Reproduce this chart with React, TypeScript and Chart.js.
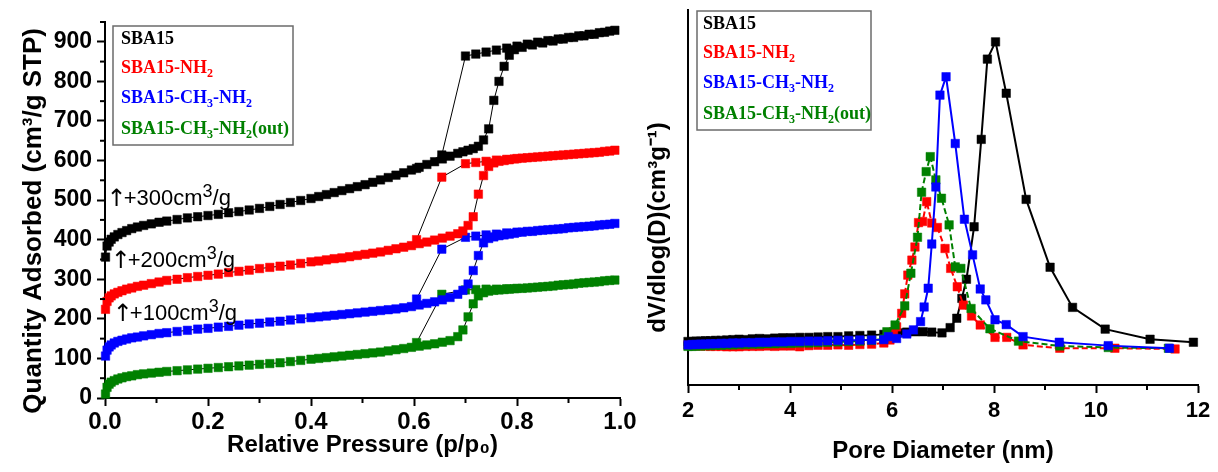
import React, { useEffect, useRef } from 'react';
import { Chart, registerables } from 'chart.js';

Chart.register(...registerables);

const SANS = "'Liberation Sans', Arial, Helvetica, sans-serif";
const SERIF = "'Liberation Serif', 'Times New Roman', serif";

// ---------- Left panel: N2 isotherms (offsets already included, as plotted) ----------
const adsPressure = [
  0.001, 0.004, 0.008, 0.012, 0.018, 0.025, 0.033, 0.042, 0.052, 0.063, 0.075, 0.09, 0.105, 0.12, 0.14, 0.16, 0.18, 0.2,
  0.22, 0.24, 0.26, 0.28, 0.3, 0.32, 0.34, 0.36, 0.38,
  0.4, 0.415, 0.43, 0.445, 0.46, 0.475, 0.49, 0.505, 0.52, 0.535, 0.55, 0.565, 0.58, 0.595, 0.61, 0.625, 0.64, 0.655, 0.67, 0.685,
  0.695, 0.705, 0.715, 0.725, 0.735, 0.745, 0.755, 0.765, 0.775, 0.785, 0.795,
  0.81, 0.83, 0.85, 0.87, 0.89, 0.91, 0.93, 0.95, 0.97, 0.99,
];
const sba15Ads = [
  356, 384, 394, 401, 407, 413, 418, 423, 428, 432, 436, 440, 444, 447, 451, 455, 458, 461,
  464, 468, 471, 475, 479, 484, 489, 494, 499,
  504, 509, 514, 519, 524, 529, 534, 539, 545, 551, 557, 563, 569, 576, 583, 590, 597, 604, 611, 618,
  622, 626, 630, 636, 652, 680, 752, 800, 838, 866, 880,
  886, 892, 897, 902, 907, 911, 915, 919, 924, 929,
];
const nh2Ads = [
  224, 244, 253, 258, 263, 267, 271, 275, 278, 282, 285, 289, 293, 297, 300, 304, 307, 310,
  313, 317, 320, 323, 327, 330, 333, 336, 340,
  344, 346, 349, 352, 354, 357, 360, 363, 366, 369, 373, 377, 381, 385, 390, 394, 399, 404, 409, 415,
  422, 436, 458, 515, 562, 585, 594, 598, 600, 602, 604,
  606, 608, 610, 612, 614, 616, 618, 620, 623, 626,
];
const ch3Ads = [
  106, 121, 129, 134, 139, 143, 146, 149, 152, 154, 157, 160, 163, 165, 168, 171, 174, 176,
  179, 181, 184, 187, 189, 192, 194, 197, 200,
  203, 205, 207, 209, 211, 213, 215, 217, 219, 221, 223, 225, 228, 231, 235, 239, 243, 248, 254, 262,
  272, 288, 322, 360, 392, 403, 407, 410, 412, 414, 416,
  419, 421, 424, 426, 428, 431, 433, 435, 438, 441,
];
const outAds = [
  10, 27, 35, 40, 44, 48, 51, 54, 56, 59, 61, 63, 65, 67, 69, 71, 73, 75,
  77, 79, 81, 83, 85, 87, 89, 92, 95,
  98, 100, 102, 104, 106, 108, 110, 112, 114, 116, 119, 122, 125, 128, 131, 134, 137, 141, 145, 155,
  172, 205, 238, 258, 266, 270, 272, 273, 274, 275, 276,
  277, 279, 281, 283, 286, 288, 291, 293, 296, 298,
];

const desPressure = [0.98, 0.96, 0.94, 0.92, 0.9, 0.88, 0.86, 0.84, 0.82, 0.8, 0.78, 0.76, 0.74, 0.72, 0.7, 0.654, 0.605];
const sba15Des = [927, 923, 919, 915, 911, 907, 903, 899, 894, 889, 884, 879, 874, 869, 864, 614, 580];
const nh2Des = [624, 621, 619, 617, 615, 613, 611, 609, 607, 605, 603, 601, 598, 595, 592, 558, 400];
const ch3Des = [439, 437, 434, 432, 430, 427, 425, 423, 421, 419, 417, 414, 412, 409, 406, 376, 250];
const outDes = [297, 294, 292, 290, 287, 285, 282, 280, 278, 277, 276, 275, 275, 274, 273, 262, 140];

const isoQTicks = [0, 100, 200, 300, 400, 500, 600, 700, 800, 900];

// ---------- Right panel: pore size distribution ----------
const psdBaseD = [
  2.0, 2.08, 2.16, 2.25, 2.34, 2.44, 2.54, 2.65, 2.76, 2.88, 3.0, 3.13, 3.26, 3.4, 3.55, 3.7, 3.86, 4.02, 4.19, 4.37,
  4.55, 4.74, 4.94, 5.15, 5.37, 5.6, 5.84,
];
const sba15PoreD = [...psdBaseD, 6.02, 6.16, 6.29, 6.45, 6.61, 6.78, 6.98, 7.14, 7.27, 7.37, 7.46, 7.61, 7.75, 7.87, 8.03, 8.24, 8.63, 9.1, 9.54, 10.18, 11.06, 11.91];
const sba15PoreV = [
  11.6, 11.6, 11.7, 11.7, 11.8, 11.8, 11.9, 11.9, 12.0, 12.1, 12.2, 12.1, 12.3, 12.4, 12.3, 12.5, 12.6, 12.6, 12.7, 12.7,
  12.8, 12.9, 12.9, 13.1, 13.2, 13.3, 13.5,
  13.7, 13.9, 14.1, 14.2, 14.2, 14.1, 13.9, 15.3, 17.8, 23.1, 28.2, 42.2, 65.5, 86.9, 91.5, 77.8, 49.5, 31.4, 20.7, 14.9, 12.2, 11.4,
];
const nh2PoreD = [...psdBaseD, 5.96, 6.03, 6.09, 6.19, 6.25, 6.31, 6.39, 6.45, 6.52, 6.6, 6.68, 6.78, 6.89, 7.04, 7.15, 7.28, 7.4, 7.56, 7.73, 8.02, 8.25, 8.57, 9.29, 10.37, 11.55];
const nh2PoreV = [
  10.6, 10.5, 10.5, 10.4, 10.4, 10.3, 10.3, 10.3, 10.2, 10.2, 10.2, 10.3, 10.3, 10.3, 10.4, 10.3, 10.4, 10.4, 10.2, 10.5,
  10.6, 10.6, 10.7, 10.6, 10.8, 10.9, 11.2,
  12.0, 14.2, 15.5, 19.1, 24.3, 29.3, 33.3, 36.8, 43.3, 43.6, 48.9, 43.2, 42.0, 36.4, 31.1, 26.2, 21.3, 18.4, 16.0, 12.7, 12.7, 10.7, 9.8, 9.8, 9.6,
];
const ch3PoreD = [...psdBaseD, 5.93, 6.09, 6.29, 6.42, 6.56, 6.63, 6.71, 6.78, 6.86, 6.94, 7.06, 7.24, 7.42, 7.58, 7.73, 7.84, 8.02, 8.24, 8.57, 9.28, 10.24, 11.44];
const ch3PoreV = [
  10.7, 10.8, 10.8, 10.9, 10.9, 11.0, 11.0, 11.1, 11.1, 11.2, 11.2, 11.3, 11.3, 11.4, 11.4, 11.5, 11.5, 11.6, 11.6, 11.7,
  11.7, 11.8, 11.9, 11.9, 12.0, 12.0, 12.1,
  12.9, 12.4, 13.6, 14.7, 16.9, 20.8, 25.8, 37.6, 52.8, 77.3, 82.2, 64.4, 44.2, 34.7, 25.6, 22.7, 17.4, 16.1, 12.9, 11.4, 10.5, 9.8,
];
const outPoreD = [...psdBaseD, 5.9, 6.06, 6.25, 6.37, 6.5, 6.58, 6.67, 6.75, 6.86, 6.97, 7.12, 7.24, 7.35, 7.55, 7.92, 8.48, 9.29, 10.24, 11.42];
const outPoreV = [
  10.3, 10.3, 10.4, 10.4, 10.5, 10.5, 10.6, 10.6, 10.7, 10.7, 10.8, 10.8, 10.9, 10.9, 11.0, 11.0, 11.1, 11.1, 11.2, 11.2,
  11.3, 11.4, 11.5, 11.6, 11.7, 11.9, 12.3,
  14.2, 16.0, 21.1, 29.8, 39.4, 51.4, 56.9, 60.9, 54.7, 49.8, 42.7, 31.5, 31.1, 20.4, 15.0, 11.7, 10.4, 10.0, 9.8,
];

// ---------- Labels ----------
const seriesNames = ['SBA15', 'SBA15-NH_2', 'SBA15-CH_3-NH_2', 'SBA15-CH_3-NH_2(out)'];
const seriesColors = ['#000000', '#ff0000', '#0000ff', '#008000'];
const offsetNotes = ['↑+300cm^3/g', '↑+200cm^3/g', '↑+100cm^3/g'];
const offsetNoteP = [0.003, 0.011, 0.015];
const offsetNoteQ = [488, 332, 197];

const isoAds = [sba15Ads, nh2Ads, ch3Ads, outAds];
const isoDes = [sba15Des, nh2Des, ch3Des, outDes];
const poreD = [sba15PoreD, nh2PoreD, ch3PoreD, outPoreD];
const poreV = [sba15PoreV, nh2PoreV, ch3PoreV, outPoreV];

// ---------- rich text helper (_x subscript, ^x superscript, ↑ enlarged) ----------
function richRuns(text: string) {
  const runs: { t: string; k: number }[] = [];
  let cur = '';
  for (let i = 0; i < text.length; i++) {
    const ch = text[i];
    if ((ch === '_' || ch === '^') && i + 1 < text.length) {
      if (cur) runs.push({ t: cur, k: 0 });
      cur = '';
      runs.push({ t: text[i + 1], k: ch === '_' ? 1 : 2 });
      i++;
    } else if (ch === '↑') {
      if (cur) runs.push({ t: cur, k: 0 });
      cur = '';
      runs.push({ t: ch, k: 3 });
    } else cur += ch;
  }
  if (cur) runs.push({ t: cur, k: 0 });
  return runs;
}

function drawRich(ctx: CanvasRenderingContext2D, text: string, x: number, y: number, o: any) {
  ctx.save();
  ctx.fillStyle = o.color;
  ctx.textBaseline = 'alphabetic';
  ctx.textAlign = 'left';
  let cx = x;
  for (const r of richRuns(text)) {
    let size = o.size;
    let fam = o.family;
    if (r.k === 1 || r.k === 2) size = o.scriptSize;
    if (r.k === 3) { size = o.arrowSize || o.size; fam = "'DejaVu Sans', " + o.family; }
    ctx.font = `${o.weight} ${size}px ${fam}`;
    const dy = r.k === 1 ? o.subDrop : r.k === 2 ? -o.supRaise : r.k === 3 ? (o.arrowDrop || 0) : 0;
    ctx.fillText(r.t, cx, y + dy);
    cx += ctx.measureText(r.t).width * (r.k === 3 ? 0.85 : 1);
  }
  ctx.restore();
  return cx - x;
}

const boxLegendPlugin = {
  id: 'boxLegend',
  afterDraw(chart: any, _a: any, opts: any) {
    if (!opts || !opts.box) return;
    const ctx = chart.ctx as CanvasRenderingContext2D;
    const b = opts.box;
    ctx.save();
    ctx.strokeStyle = '#6b6b6b';
    ctx.lineWidth = 1.5;
    ctx.strokeRect(b.left, b.top, b.width, b.height);
    ctx.restore();
    seriesNames.forEach((name, i) => {
      drawRich(ctx, name, b.left + b.padX, b.top + b.rows[i] + 6, {
        color: seriesColors[i], size: 18, scriptSize: 12, weight: 'bold', family: SERIF, subDrop: 4, supRaise: 7,
      });
    });
  },
};

const notesPlugin = {
  id: 'offsetNotes',
  afterDraw(chart: any, _a: any, opts: any) {
    if (!opts || !opts.show) return;
    const ctx = chart.ctx as CanvasRenderingContext2D;
    const xs = chart.scales.x;
    const ys = chart.scales.y;
    offsetNotes.forEach((t, i) => {
      drawRich(ctx, t, xs.getPixelForValue(offsetNoteP[i]), ys.getPixelForValue(offsetNoteQ[i]), {
        color: '#000', size: 22, scriptSize: 18, arrowSize: 24, arrowDrop: 1, weight: 'normal', family: SANS, subDrop: 4, supRaise: 8,
      });
    });
  },
};

const minorTicksPlugin = {
  id: 'minorTicks',
  afterDraw(chart: any, _a: any, opts: any) {
    if (!opts || !opts.steps) return;
    const ctx = chart.ctx as CanvasRenderingContext2D;
    ctx.save();
    ctx.strokeStyle = '#000';
    ctx.lineWidth = 2;
    for (const id of Object.keys(opts.steps)) {
      const scale = chart.scales[id];
      const step = opts.steps[id];
      const major = scale.options.ticks.stepSize;
      const n = Math.round((scale.max - scale.min) / step);
      for (let k = 0; k <= n; k++) {
        const v = scale.min + k * step;
        const r = (v - scale.min) / major;
        if (Math.abs(r - Math.round(r)) < 1e-6) continue;
        const p = scale.getPixelForValue(v);
        ctx.beginPath();
        if (scale.isHorizontal()) {
          ctx.moveTo(p, scale.top);
          ctx.lineTo(p, scale.top + 5);
        } else {
          ctx.moveTo(scale.right, p);
          ctx.lineTo(scale.right - 5, p);
        }
        ctx.stroke();
      }
    }
    ctx.restore();
  },
};

const axisGrid = { display: true, drawOnChartArea: false, drawTicks: true, tickLength: 8, tickWidth: 2, tickColor: '#000' };
const axisBorder = { display: true, width: 2, color: '#000' };

function IsothermChart() {
  const ref = useRef<HTMLCanvasElement>(null);
  useEffect(() => {
    const datasets = seriesNames.map((name, i) => ({
      label: name,
      data: [
        ...adsPressure.map((p, k) => ({ x: p, y: isoAds[i][k] })),
        ...desPressure.map((p, k) => ({ x: p, y: isoDes[i][k] })),
      ],
      showLine: true,
      borderColor: '#000',
      borderWidth: 1,
      pointStyle: 'rect',
      pointRadius: 6,
      pointBackgroundColor: seriesColors[i],
      pointBorderColor: seriesColors[i],
      pointBorderWidth: 0.5,
      tension: 0,
      clip: false,
    }));
    const chart = new Chart(ref.current as HTMLCanvasElement, {
      type: 'scatter',
      data: { datasets } as any,
      plugins: [boxLegendPlugin, notesPlugin, minorTicksPlugin],
      options: {
        animation: false,
        responsive: false,
        devicePixelRatio: 1,
        events: [],
        layout: { padding: { left: 0, right: 20, top: 22, bottom: 0 } },
        plugins: {
          legend: { display: false },
          tooltip: { enabled: false },
          boxLegend: { box: { left: 113, top: 26, width: 180, height: 119, padX: 8, rows: [12, 41, 71, 102] } },
          offsetNotes: { show: true },
          minorTicks: { steps: { x: 0.1, y: 50 } },
        } as any,
        scales: {
          x: {
            type: 'linear',
            min: 0,
            max: 1,
            grid: axisGrid,
            border: axisBorder,
            ticks: {
              stepSize: 0.2,
              autoSkip: false,
              maxRotation: 0,
              padding: 2,
              color: '#000',
              font: { family: SANS, size: 24, weight: 'bold' },
              callback: (v: any) => Number(v).toFixed(1),
            },
            title: {
              display: true,
              text: 'Relative Pressure (p/p₀)',
              color: '#000',
              font: { family: SANS, size: 24, weight: 'bold' },
              padding: { top: 0, bottom: 12 },
            },
            afterFit: (s: any) => { s.height = 74; },
          },
          y: {
            type: 'linear',
            min: 0,
            max: 950,
            grid: axisGrid,
            border: axisBorder,
            ticks: {
              stepSize: 100,
              padding: 5,
              color: '#000',
              font: { family: SANS, size: 23, weight: 'bold' },
            },
            afterBuildTicks: (s: any) => { s.ticks = isoQTicks.map((v) => ({ value: v })); },
            title: {
              display: true,
              text: 'Quantity Adsorbed (cm³/g STP)   ',
              color: '#000',
              font: { family: SANS, size: 26, weight: 'bold' },
              padding: { top: 18, bottom: 0 },
            },
            afterFit: (s: any) => { s.width = 105; },
          },
        },
      } as any,
    });
    return () => chart.destroy();
  }, []);
  return <canvas ref={ref} width={640} height={472} style={{ position: 'absolute', left: 0, top: 0, width: 640, height: 472 }} />;
}

function PoreChart() {
  const ref = useRef<HTMLCanvasElement>(null);
  useEffect(() => {
    const orders = [3, 2, 0, 1];
    const dashes = [[], [6, 3], [], [6, 3]];
    const datasets = seriesNames.map((name, i) => ({
      label: name,
      data: poreD[i].map((d, k) => ({ x: d, y: poreV[i][k] })),
      showLine: true,
      borderColor: seriesColors[i],
      borderWidth: 2,
      borderDash: dashes[i],
      pointStyle: 'rect',
      pointRadius: 6,
      pointBackgroundColor: seriesColors[i],
      pointBorderColor: seriesColors[i],
      pointBorderWidth: 0.5,
      tension: 0,
      order: orders[i],
      clip: false,
    }));
    const chart = new Chart(ref.current as HTMLCanvasElement, {
      type: 'scatter',
      data: { datasets } as any,
      plugins: [boxLegendPlugin, minorTicksPlugin],
      options: {
        animation: false,
        responsive: false,
        devicePixelRatio: 1,
        events: [],
        layout: { padding: { left: 0, right: 20, top: 10, bottom: 0 } },
        plugins: {
          legend: { display: false },
          tooltip: { enabled: false },
          boxLegend: { box: { left: 57, top: 11, width: 174, height: 119, padX: 6, rows: [12, 41, 71, 102] } },
          minorTicks: { steps: { x: 1 } },
        } as any,
        scales: {
          x: {
            type: 'linear',
            min: 2,
            max: 12,
            grid: axisGrid,
            border: axisBorder,
            ticks: {
              stepSize: 2,
              autoSkip: false,
              maxRotation: 0,
              padding: 5,
              color: '#000',
              font: { family: SANS, size: 22, weight: 'bold' },
            },
            title: {
              display: true,
              text: 'Pore Diameter (nm)',
              color: '#000',
              font: { family: SANS, size: 24, weight: 'bold' },
              padding: { top: 0, bottom: 6 },
            },
            afterFit: (s: any) => { s.height = 87; },
          },
          y: {
            type: 'linear',
            min: 0,
            max: 100,
            grid: { display: false },
            border: axisBorder,
            ticks: { display: false },
            title: {
              display: true,
              text: 'dV/dlog(D)(cm³g⁻¹)         ',
              color: '#000',
              font: { family: SANS, size: 24, weight: 'bold' },
              padding: { top: 4, bottom: 0 },
            },
            afterFit: (s: any) => { s.width = 48; },
          },
        },
      } as any,
    });
    return () => chart.destroy();
  }, []);
  return <canvas ref={ref} width={578} height={472} style={{ position: 'absolute', left: 640, top: 0, width: 578, height: 472 }} />;
}

export default function App() {
  return (
    <div style={{ position: 'absolute', left: 0, top: 0, width: 1218, height: 472, background: '#fff', overflow: 'hidden' }}>
      <IsothermChart />
      <PoreChart />
    </div>
  );
}
